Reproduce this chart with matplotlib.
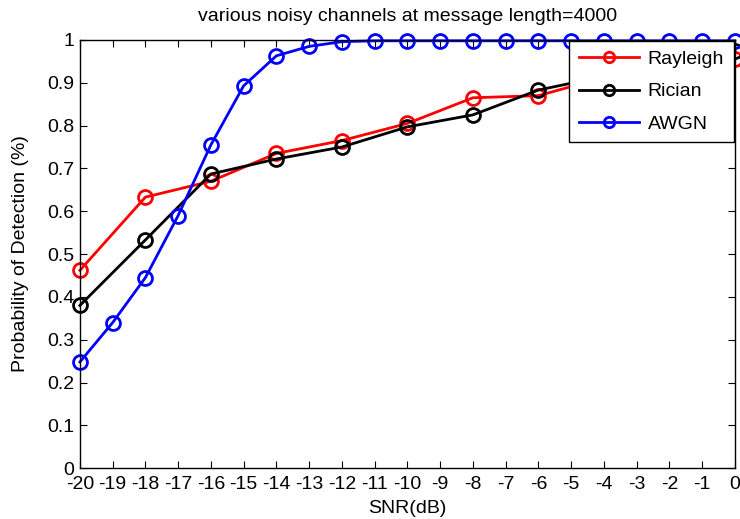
import matplotlib
matplotlib.use("Agg")
import matplotlib.pyplot as plt
import numpy as np

plt.rcParams['font.family'] = ['Liberation Sans', 'DejaVu Sans']
plt.rcParams['axes.unicode_minus'] = False

snr_ray = [-20, -18, -16, -14, -12, -10, -8, -6, -4, -2, 0]
rayleigh = [0.462, 0.633, 0.670, 0.735, 0.765, 0.805, 0.865, 0.870, 0.912, 0.940, 0.955]
snr_ric = [-20, -18, -16, -14, -12, -10, -8, -6, -4, -2, 0]
rician = [0.380, 0.533, 0.687, 0.722, 0.750, 0.797, 0.825, 0.883, 0.915, 0.950, 0.975]
snr_awgn = list(range(-20, 1))
awgn = [0.248, 0.340, 0.445, 0.590, 0.755, 0.893, 0.963, 0.985, 0.996, 0.998,
        0.998, 0.998, 0.998, 0.998, 0.998, 0.998, 0.998, 0.998, 0.998, 0.998, 0.998]

fig = plt.figure(figsize=(7.4, 5.19), dpi=100)
ax = fig.add_axes([0.108, 0.098, 0.885, 0.825])

mk = dict(marker='o', markersize=10, markerfacecolor='none', markeredgewidth=2, linewidth=2, clip_on=False)
ax.plot(snr_ray, rayleigh, color='#ff0000', label='Rayleigh', **mk)
ax.plot(snr_ric, rician, color='#000000', label='Rician', **mk)
ax.plot(snr_awgn, awgn, color='#0000ff', label='AWGN', **mk)

ax.set_xlim(-20, 0)
ax.set_ylim(0, 1)
ax.set_xticks(np.arange(-20, 1, 1))
ax.set_yticks(np.arange(0, 1.01, 0.1))
ax.set_yticklabels(['0', '0.1', '0.2', '0.3', '0.4', '0.5', '0.6', '0.7', '0.8', '0.9', '1'])
ax.tick_params(direction='in', labelsize=14, length=5, top=True, right=True, width=0.8)
ax.tick_params(axis='x', pad=6)
ax.tick_params(axis='y', pad=4)
for s in ax.spines.values():
    s.set_linewidth(1)

ax.set_xlabel('SNR(dB)', fontsize=14, labelpad=5)
ax.set_ylabel('Probability of Detection (%)', fontsize=14, labelpad=13)
ax.set_title('various noisy channels at message length=4000', fontsize=14, pad=14)

leg = ax.legend(loc='upper right', fontsize=14, frameon=True, fancybox=False,
                edgecolor='black', framealpha=1, borderaxespad=0.05,
                handlelength=3.1, handletextpad=0.45, markerscale=0.75,
                labelspacing=0.75, borderpad=0.5)
leg.get_frame().set_linewidth(1)
leg.set_zorder(10)

fig.savefig('out.png', dpi=100)
